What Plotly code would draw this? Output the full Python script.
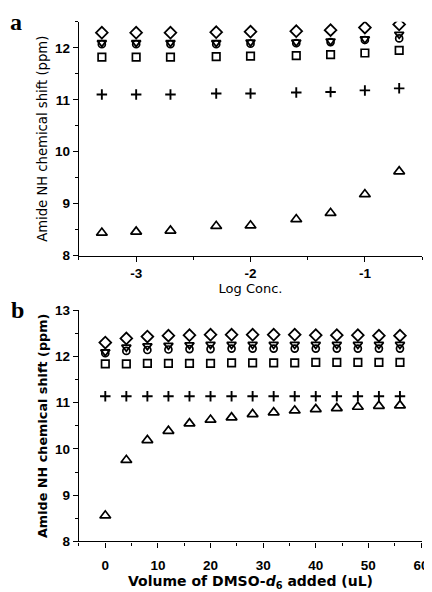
import plotly.graph_objects as go

# Panel a data
log_conc = [-3.3, -3.0, -2.7, -2.3, -2.0, -1.6, -1.3, -1.0, -0.7]
a_diamond = [12.29, 12.29, 12.29, 12.30, 12.31, 12.32, 12.34, 12.39, 12.45]
a_downtri = [12.10, 12.10, 12.10, 12.10, 12.11, 12.11, 12.13, 12.17, 12.26]
a_circle = [12.07, 12.07, 12.07, 12.07, 12.08, 12.09, 12.11, 12.15, 12.18]
a_square = [11.82, 11.82, 11.82, 11.83, 11.84, 11.85, 11.87, 11.90, 11.95]
a_plus = [11.10, 11.10, 11.10, 11.12, 11.12, 11.14, 11.15, 11.18, 11.22]
a_uptri = [8.44, 8.46, 8.48, 8.57, 8.58, 8.70, 8.82, 9.18, 9.62]
a_xtick_vals = [-3, -2, -1]
a_xtick_text = ["-3", "-2", "-1"]

# Panel b data
dmso_vol = [0, 4, 8, 12, 16, 20, 24, 28, 32, 36, 40, 44, 48, 52, 56]
b_diamond = [12.30, 12.39, 12.43, 12.45, 12.46, 12.47, 12.47, 12.47, 12.47, 12.47, 12.46, 12.46, 12.46, 12.45, 12.45]
b_downtri = [12.10, 12.20, 12.23, 12.24, 12.25, 12.26, 12.26, 12.26, 12.26, 12.26, 12.26, 12.26, 12.26, 12.26, 12.26]
b_circle = [12.07, 12.12, 12.14, 12.15, 12.16, 12.16, 12.17, 12.17, 12.17, 12.17, 12.17, 12.17, 12.17, 12.17, 12.17]
b_square = [11.84, 11.84, 11.85, 11.85, 11.85, 11.85, 11.86, 11.86, 11.86, 11.86, 11.87, 11.87, 11.87, 11.87, 11.87]
b_plus = [11.14] * 15
b_uptri = [8.56, 9.76, 10.19, 10.39, 10.55, 10.63, 10.68, 10.75, 10.79, 10.83, 10.86, 10.88, 10.91, 10.93, 10.94]

# page has an 8px body margin; figure is sized to fill the rest
OFF = 8
W, H = 432 - OFF, 592 - OFF
fig = go.Figure()

styles = [
    ("diamond-open", 9, 1.8),
    ("triangle-down-open", 8, 1.8),
    ("circle-open", 7, 1.7),
    ("square-open", 7.5, 1.7),
    ("cross-thin", 7.5, 1.9),
    ("triangle-up-open", 9.5, 1.7),
]

def add_panel(x, series, xa, ya):
    for (sym, size, lw), ys in zip(styles, series):
        fig.add_trace(go.Scatter(
            x=x, y=ys, mode="markers", xaxis=xa, yaxis=ya, showlegend=False,
            marker=dict(symbol=sym, size=size, color="black",
                        line=dict(color="black", width=lw)),
        ))

add_panel(log_conc, [a_diamond, a_downtri, a_circle, a_square, a_plus, a_uptri], "x", "y")
add_panel(dmso_vol, [b_diamond, b_downtri, b_circle, b_square, b_plus, b_uptri], "x2", "y2")

def px_x(p):
    return (p - OFF) / W

def px_y(p):
    return 1 - (p - OFF) / H

xd = [px_x(80), px_x(428)]
ya_dom = [px_y(255), px_y(15)]
yb_dom = [px_y(548.3), px_y(311)]

tickfont = dict(family="Liberation Sans", size=13.5, color="black", weight="bold")
ytitle_a = dict(family="DejaVu Sans", size=13.2, color="black")
ytitle_b = dict(family="DejaVu Sans", size=12.8, color="black", weight="bold")
xtitle_a = dict(family="DejaVu Sans", size=13, color="black")
xtitle_b = dict(family="DejaVu Sans", size=14, color="black", weight="bold")

common = dict(showline=True, linecolor="black", linewidth=1.3, ticks="outside",
              ticklen=5, tickwidth=1.3, tickcolor="black", showgrid=False,
              zeroline=False, tickfont=tickfont, mirror=False,
              ticklabeloverflow="allow")
minor_common = dict(ticklen=3, tickcolor="black", ticks="outside", tickwidth=1.1)

fig.update_layout(
    width=W, height=H, margin=dict(l=0, r=0, t=0, b=0),
    paper_bgcolor="white", plot_bgcolor="white",
    xaxis=dict(domain=xd, anchor="y", range=[-3.5, -0.5],
               tickmode="array", tickvals=a_xtick_vals, ticktext=a_xtick_text,
               minor=dict(dtick=0.5, tick0=-3, **minor_common),
               title=dict(text="Log Conc.", font=xtitle_a, standoff=1), **common),
    yaxis=dict(domain=ya_dom, anchor="x", range=[8, 12.5], dtick=1, tick0=8,
               minor=dict(dtick=0.5, **minor_common),
               title=dict(text="Amide NH chemical shift (ppm)", font=ytitle_a, standoff=4), **common),
    xaxis2=dict(domain=xd, anchor="y2", range=[-5, 60.2], dtick=10, tick0=0,
                minor=dict(dtick=5, **minor_common), ticklabelstandoff=6,
                title=dict(text="Volume of DMSO-<i>d</i><sub>6</sub> added (uL)", font=xtitle_b, standoff=3), **common),
    yaxis2=dict(domain=yb_dom, anchor="x2", range=[8, 13], dtick=1, tick0=8,
                minor=dict(dtick=0.5, **minor_common),
                title=dict(text="Amide NH chemical shift (ppm)", font=ytitle_b, standoff=4), **common),
    annotations=[
        dict(text="<b>a</b>", x=px_x(8), y=px_y(31), xref="paper", yref="paper",
             xanchor="left", yanchor="bottom", showarrow=False,
             font=dict(family="Liberation Serif", size=24, color="black")),
        dict(text="<b>b</b>", x=px_x(9), y=px_y(326), xref="paper", yref="paper",
             xanchor="left", yanchor="bottom", showarrow=False,
             font=dict(family="Liberation Serif", size=24, color="black")),
    ],
)

fig.write_html("out.html")
